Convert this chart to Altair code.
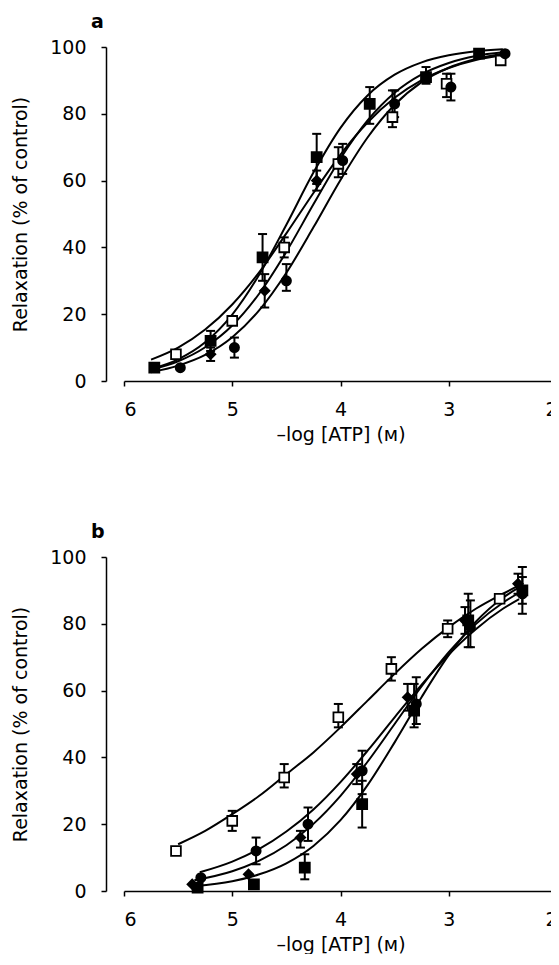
import altair as alt
import pandas as pd

FONT = "DejaVu Sans"
FSZ = 19

# ---------------- Panel a : measured points ----------------
a_fs_x = [5.72, 5.2, 4.72, 4.22, 3.73, 3.21, 2.72]
a_fs_y = [4, 12, 37, 67, 83, 91, 98]
a_fs_lo = [4, 9, 30, 59, 77, 89, 98]
a_fs_hi = [4, 15, 44, 74, 88, 94, 98]

a_os_x = [5.52, 5.0, 4.52, 4.02, 3.52, 3.02, 2.52]
a_os_y = [8, 18, 40, 65, 79, 89, 96]
a_os_lo = [8, 18, 37, 61, 76, 85, 96]
a_os_hi = [8, 18, 43, 70, 87, 92, 96]

a_d_x = [5.2, 4.7, 4.22]
a_d_y = [8, 27, 60]
a_d_lo = [6, 22, 57]
a_d_hi = [10, 32, 63]

a_fc_x = [5.48, 4.98, 4.5, 3.98, 3.5, 2.98, 2.48]
a_fc_y = [4, 10, 30, 66, 83, 88, 98]
a_fc_lo = [4, 7, 27, 62, 79, 84, 98]
a_fc_hi = [4, 13, 35, 71, 87, 92, 98]

# ---------------- Panel a : fitted curves ----------------
a_curve_x = [5.75, 5.5, 5.25, 5.0, 4.75, 4.5, 4.25, 4.0, 3.75, 3.5, 3.25, 3.0, 2.75, 2.5]
a_curve_fs = [3.6, 6.5, 11.6, 19.9, 31.9, 46.8, 62.4, 75.8, 85.5, 91.7, 95.4, 97.5, 98.7, 99.3]
a_curve_os = [6.4, 10.0, 15.4, 22.9, 32.6, 44.2, 56.3, 67.8, 77.4, 84.8, 90.1, 93.7, 96.1, 97.5]
a_curve_d = [3.4, 5.9, 10.1, 16.6, 26.2, 38.7, 52.9, 66.6, 78.0, 86.3, 91.8, 95.2, 97.3, 98.4]
a_curve_fc = [2.6, 4.6, 7.8, 13.1, 21.2, 32.4, 46.0, 60.2, 72.9, 82.7, 89.5, 93.8, 96.4, 98.0]

# ---------------- Panel b : measured points ----------------
b_os_x = [5.52, 5.0, 4.52, 4.02, 3.53, 3.01, 2.53]
b_os_y = [12, 21, 34, 52, 66.5, 78.5, 87.5]
b_os_lo = [12, 18, 31, 49, 63, 76, 87.5]
b_os_hi = [12, 24, 38, 56, 70, 81, 87.5]

b_fc_x = [5.29, 4.78, 4.3, 3.8, 3.3, 2.8, 2.32]
b_fc_y = [4, 12, 20, 36, 56, 79, 89]
b_fc_lo = [4, 8, 15, 29, 50, 73, 83]
b_fc_hi = [4, 16, 25, 42, 64, 87, 97]

b_d_x = [5.37, 4.85, 4.37, 3.85, 3.38, 2.85, 2.36]
b_d_y = [2, 5, 16, 35, 58, 81, 92]
b_d_lo = [2, 5, 13, 32, 54, 77, 89]
b_d_hi = [2, 5, 18, 38, 62, 85, 95]

b_fs_x = [5.32, 4.8, 4.33, 3.8, 3.32, 2.82, 2.32]
b_fs_y = [1, 2, 7, 26, 54, 81, 90]
b_fs_lo = [1, 2, 3.5, 19, 49, 73, 86]
b_fs_hi = [1, 2, 11, 33, 62, 89, 94]

# ---------------- Panel b : fitted curves ----------------
b_curve_os_x = [5.5, 5.25, 5.0, 4.75, 4.5, 4.25, 4.0, 3.75, 3.5, 3.25, 3.0, 2.75, 2.5, 2.35]
b_curve_os = [14, 18, 23, 28.5, 35, 41.5, 49, 57, 65, 72.5, 79, 84.5, 89, 91.5]
b_curve_fc_x = [5.3, 5.0, 4.75, 4.5, 4.25, 4.0, 3.75, 3.5, 3.25, 3.0, 2.75, 2.5, 2.35]
b_curve_fc = [5.6, 8.8, 12.6, 17.8, 24.4, 32.6, 42.0, 52.0, 61.8, 70.8, 78.4, 84.5, 87.4]
b_curve_dfs_x = [5.35, 5.0, 4.75, 4.5, 4.25, 4.0, 3.75, 3.5, 3.25, 3.0, 2.75, 2.5, 2.35]
b_curve_d = [3.2, 5.9, 9.1, 13.7, 20.1, 28.5, 38.7, 50.0, 61.3, 71.5, 79.9, 86.3, 89.3]
b_curve_fs = [1.4, 2.9, 5.0, 8.3, 13.5, 21.2, 31.7, 44.5, 58.1, 70.6, 80.6, 87.8, 90.9]

SERIES = ["FS", "OS", "D", "FC"]
SHAPES = ["square", "square", "diamond", "circle"]
FILLS = ["black", "white", "black", "black"]
SIZES = [100, 85, 80, 95]

X_TICKS = [2, 3, 4, 5, 6]
Y_TICKS = [0, 20, 40, 60, 80, 100]


def points_df(groups):
    rows = []
    for name, xs, ys, los, his in groups:
        for x, y, lo, hi in zip(xs, ys, los, his):
            rows.append({"series": name, "x": x, "y": y, "lo": lo, "hi": hi})
    return pd.DataFrame(rows)


def curves_df(groups):
    rows = []
    for name, xs, ys in groups:
        for x, y in zip(xs, ys):
            rows.append({"series": name, "x": x, "y": y})
    return pd.DataFrame(rows)


x_axis = alt.Axis(values=X_TICKS, format="d", title="–log [ATP] (ᴍ)",
                  labelPadding=14, titlePadding=6, tickSize=5)
y_axis = alt.Axis(values=Y_TICKS, title="Relaxation (% of control)", offset=18,
                  labelPadding=15, titlePadding=19, tickSize=5)
x_scale = alt.Scale(domain=[2, 6], reverse=True, nice=False, zero=False)
y_scale = alt.Scale(domain=[0, 100], nice=False, zero=False)


def panel(pts, curves, label):
    X = lambda f: alt.X(f, type="quantitative", scale=x_scale, axis=x_axis)
    Y = lambda f: alt.Y(f, type="quantitative", scale=y_scale, axis=y_axis)

    lines = alt.Chart(curves).mark_line(
        color="black", strokeWidth=2, interpolate="monotone"
    ).encode(x=X("x"), y=Y("y"), detail="series:N")

    err = alt.Chart(pts).mark_rule(color="black", strokeWidth=2).encode(
        x=X("x"), y=Y("lo"), y2="hi"
    )
    cap_hi = alt.Chart(pts).transform_filter("datum.hi > datum.y").mark_tick(
        orient="horizontal", size=9, thickness=2, color="black", opacity=1
    ).encode(x=X("x"), y=Y("hi"))
    cap_lo = alt.Chart(pts).transform_filter("datum.lo < datum.y").mark_tick(
        orient="horizontal", size=9, thickness=2, color="black", opacity=1
    ).encode(x=X("x"), y=Y("lo"))

    marks = alt.Chart(pts).mark_point(
        filled=True, stroke="black", strokeWidth=1.8, opacity=1
    ).encode(
        x=X("x"), y=Y("y"),
        shape=alt.Shape("series:N", scale=alt.Scale(domain=SERIES, range=SHAPES), legend=None),
        fill=alt.Fill("series:N", scale=alt.Scale(domain=SERIES, range=FILLS), legend=None),
        size=alt.Size("series:N", scale=alt.Scale(domain=SERIES, range=SIZES), legend=None),
    )

    return alt.layer(lines, err, cap_hi, cap_lo, marks).properties(
        width=433, height=334,
        title=alt.TitleParams(label, anchor="start", frame="group", dx=-33,
                              fontWeight="bold", fontSize=FSZ, font=FONT,
                              color="black", offset=6),
    )


pa = points_df([
    ("FS", a_fs_x, a_fs_y, a_fs_lo, a_fs_hi),
    ("OS", a_os_x, a_os_y, a_os_lo, a_os_hi),
    ("D", a_d_x, a_d_y, a_d_lo, a_d_hi),
    ("FC", a_fc_x, a_fc_y, a_fc_lo, a_fc_hi),
])
ca = curves_df([
    ("FS", a_curve_x, a_curve_fs),
    ("OS", a_curve_x, a_curve_os),
    ("D", a_curve_x, a_curve_d),
    ("FC", a_curve_x, a_curve_fc),
])
pb = points_df([
    ("OS", b_os_x, b_os_y, b_os_lo, b_os_hi),
    ("FC", b_fc_x, b_fc_y, b_fc_lo, b_fc_hi),
    ("D", b_d_x, b_d_y, b_d_lo, b_d_hi),
    ("FS", b_fs_x, b_fs_y, b_fs_lo, b_fs_hi),
])
cb = curves_df([
    ("OS", b_curve_os_x, b_curve_os),
    ("FC", b_curve_fc_x, b_curve_fc),
    ("D", b_curve_dfs_x, b_curve_d),
    ("FS", b_curve_dfs_x, b_curve_fs),
])

chart = alt.vconcat(panel(pa, ca, "a"), panel(pb, cb, "b"), spacing=79).properties(
    padding={"left": 3, "top": 5, "right": -7, "bottom": 0}
).configure_view(stroke=None).configure_axis(
    grid=False, domainColor="black", domainWidth=1.5, tickColor="black", tickWidth=1.5,
    labelFont=FONT, labelFontSize=FSZ, labelColor="black",
    titleFont=FONT, titleFontSize=FSZ, titleFontWeight="normal", titleColor="black",
).configure_title(font=FONT)

chart.save("out.html", embed_options={"renderer": "svg", "actions": False})
